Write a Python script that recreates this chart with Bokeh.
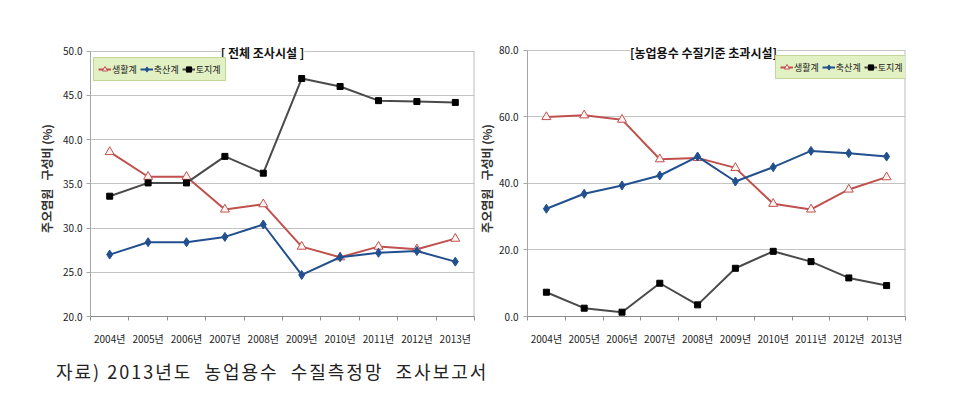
from bokeh.plotting import figure
from bokeh.models import Range1d, FixedTicker, NumeralTickFormatter, Label, Div
from bokeh.layouts import row, column
from bokeh.embed import file_html
from bokeh.resources import INLINE

# ---------------- data ----------------
years = ["2004년", "2005년", "2006년", "2007년", "2008년",
         "2009년", "2010년", "2011년", "2012년", "2013년"]
series_names = ["생활계", "축산계", "토지계"]

total_domestic = [38.6, 35.8, 35.8, 32.1, 32.7, 27.9, 26.7, 27.9, 27.6, 28.8]
total_livestock = [27.0, 28.4, 28.4, 29.0, 30.4, 24.7, 26.7, 27.2, 27.4, 26.2]
total_land = [33.6, 35.1, 35.1, 38.1, 36.2, 46.9, 46.0, 44.4, 44.3, 44.2]

exceed_domestic = [60.0, 60.5, 59.2, 47.3, 47.7, 44.7, 33.9, 32.2, 38.2, 41.9]
exceed_livestock = [32.4, 36.9, 39.4, 42.4, 48.1, 40.6, 44.9, 49.8, 49.1, 48.1]
exceed_land = [7.3, 2.5, 1.3, 10.0, 3.5, 14.5, 19.6, 16.5, 11.6, 9.3]

left_title = "[ 전체 조사시설 ]"
right_title = "[농업용수 수질기준 초과시설]"
y_label = "주오염원\u00a0\u00a0\u00a0구성비\u00a0(%)"
caption = "자료) 2013년도  농업용수  수질측정망  조사보고서"

left_yticks = [20, 25, 30, 35, 40, 45, 50]
right_yticks = [0, 20, 40, 60, 80]

# ---------------- style ----------------
NUM_FONT = "'Liberation Sans Narrow', 'Noto Sans CJK KR', sans-serif"
KR_FONT = "'Noto Sans CJK KR', sans-serif"
RED = "#c0504d"
BLUE = "#22508f"
DARK = "#4a4a4a"
GRID = "#c4c4c4"

xpos = [i + 0.5 for i in range(len(years))]
bounds = list(range(len(years) + 1))


def build(title, dom, live, land, yticks, top_pad, width, height, bl, br,
          bt, bb, leg_loc, title_x, title_y, lab_standoff, tick_standoff):
    ymin, ymax = yticks[0], yticks[-1]
    xmax = len(years)
    p = figure(width=width, height=height, output_backend="svg",
               toolbar_location=None,
               x_range=Range1d(0, xmax),
               y_range=Range1d(ymin, ymax + top_pad),
               min_border_left=bl, min_border_right=br,
               min_border_top=bt, min_border_bottom=bb)
    p.background_fill_color = "white"
    p.border_fill_color = "white"
    p.outline_line_color = None
    p.xgrid.grid_line_color = None
    p.ygrid.grid_line_color = GRID
    p.ygrid.ticker = FixedTicker(ticks=yticks)

    # x axis
    xa = p.xaxis[0]
    xa.ticker = FixedTicker(ticks=xpos, minor_ticks=bounds)
    xa.major_label_overrides = {x: y for x, y in zip(xpos, years)}
    xa.major_tick_out = 0
    xa.major_tick_in = 0
    xa.minor_tick_out = 4
    xa.minor_tick_in = 0
    xa.minor_tick_line_color = "#8c8c8c"
    xa.axis_line_color = "#8c8c8c"
    xa.major_label_text_font = NUM_FONT
    xa.major_label_text_font_size = "10px"
    xa.major_label_text_color = "#222222"
    xa.major_label_standoff = 10

    # y axis
    ya = p.yaxis[0]
    ya.bounds = (ymin, ymax)
    ya.ticker = FixedTicker(ticks=yticks)
    ya.formatter = NumeralTickFormatter(format="0.0")
    ya.minor_tick_line_color = None
    ya.major_tick_out = 4
    ya.major_tick_in = 0
    ya.major_tick_line_color = "#a6a6a6"
    ya.axis_line_color = "#a6a6a6"
    ya.major_label_text_font = NUM_FONT
    ya.major_label_text_font_size = "10px"
    ya.major_label_text_color = "#222222"
    ya.major_label_standoff = tick_standoff
    ya.axis_label = y_label
    ya.axis_label_text_font = KR_FONT
    ya.axis_label_text_font_size = "12px"
    ya.axis_label_text_font_style = "bold"
    ya.axis_label_text_color = "#333333"
    ya.axis_label_standoff = lab_standoff

    # right border of the plot area
    p.segment(x0=[xmax], y0=[ymin], x1=[xmax], y1=[ymax],
              line_color="#bdbdbd", line_width=2)

    # series
    p.line(xpos, dom, color=RED, line_width=2, legend_label=series_names[0])
    p.scatter(xpos, dom, marker="triangle", size=9, fill_color="#fff4f2",
              line_color=RED, line_width=1, legend_label=series_names[0])
    p.line(xpos, live, color=BLUE, line_width=2, legend_label=series_names[1])
    p.scatter(xpos, live, marker="diamond", size=9, fill_color=BLUE,
              line_color=BLUE, legend_label=series_names[1])
    p.line(xpos, land, color=DARK, line_width=2, legend_label=series_names[2])
    p.scatter(xpos, land, marker="square", size=6, fill_color="black",
              line_color="black", legend_label=series_names[2])

    leg = p.legend[0]
    leg.location = leg_loc
    leg.orientation = "horizontal"
    leg.background_fill_color = "#e2f1c4"
    leg.background_fill_alpha = 1
    leg.border_line_color = "#9fbd69"
    leg.border_line_width = 1
    leg.label_text_font = KR_FONT
    leg.label_text_font_size = "9px"
    leg.label_text_color = "#222222"
    leg.glyph_width = 13
    leg.glyph_height = 14
    leg.label_height = 14
    leg.label_standoff = 1
    leg.spacing = 3
    leg.padding = 4
    leg.margin = 0

    t = Label(x=title_x, y=title_y, x_units="screen", y_units="screen",
              text=title, text_font=KR_FONT, text_font_size="12px",
              text_font_style="bold", text_align="center",
              text_baseline="middle", text_color="#111111",
              background_fill_color="white", background_fill_alpha=1)
    p.add_layout(t)
    return p


p1 = build(left_title, total_domestic, total_livestock, total_land,
           left_yticks, top_pad=1.2, width=475, height=350,
           bl=90, br=1, bt=40, bb=31,
           leg_loc=(3, 235), title_x=172, title_y=264,
           lab_standoff=5, tick_standoff=4)
p2 = build(right_title, exceed_domestic, exceed_livestock, exceed_land,
           right_yticks, top_pad=3, width=495, height=350,
           bl=42, br=65, bt=40, bb=34,
           leg_loc=(248, 237), title_x=176, title_y=264,
           lab_standoff=1, tick_standoff=5)

cap = Div(text=('<div style="padding-left:51px;padding-top:4px;'
                'font-family:\'Noto Sans CJK KR\',sans-serif;font-size:18px;'
                'letter-spacing:2px;color:#222;white-space:pre;">'
                + caption + '</div>'),
          width=600, height=44)

layout = column(row(p1, p2), cap)

open("out.html", "w").write(file_html(layout, INLINE))
